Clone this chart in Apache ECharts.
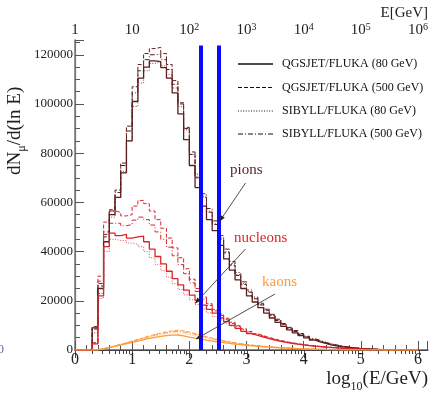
<!DOCTYPE html>
<html><head><meta charset="utf-8">
<script src="https://cdn.jsdelivr.net/npm/echarts@6/dist/echarts.min.js"></script>
<style>html,body{margin:0;padding:0;background:#fff}#c{width:431px;height:394px}</style>
</head><body><div id="c"></div>
<script>
// ---- data ----
const binEdges = [0.0,0.1,0.2,0.3,0.4,0.5,0.6,0.7,0.8,0.9,
  1.0,1.1,1.2,1.3,1.4,1.5,1.6,1.7,1.8,1.9,
  2.0,2.1,2.2,2.3,2.4,2.5,2.6,2.7,2.8,2.9,
  3.0,3.1,3.2,3.3,3.4,3.5,3.6,3.7,3.8,3.9,
  4.0,4.1,4.2,4.3,4.4,4.5,4.6,4.7,4.8,4.9,
  5.0,5.1,5.2,5.3,5.4,5.5,5.6,5.7,5.8,5.9,6.0];

const pionQ80 = [0,0,0,
  9000,25000,44000,55000,62000,72000,85000,101000,110500,115000,
  117500,117200,114800,110500,104500,96000,85500,75000,66000,58500,
  53000,48500,42500,37000,32500,28500,25000,22000,19500,17200,
  15000,13000,11200,9600,8200,7000,5900,4900,4000,3200,
  2600,2000,1600,1250,950,720,540,400,290,210,
  150,110,80,55,35,20,10,0];
const pionQ500 = [0,0,0,
  9500,27000,47000,57000,65000,76000,91000,107000,116000,120500,
  122500,123000,120500,116000,109500,100500,90000,79500,70000,62000,
  56000,51000,45000,39500,34500,30300,26600,23500,20800,18300,
  16000,13900,12000,10300,8800,7500,6300,5300,4300,3500,
  2800,2200,1750,1350,1050,800,600,440,320,230,
  165,120,85,60,40,25,12,0];
const pionS80 = [0,0,0,
  7000,23000,42000,54000,62000,72500,85000,99000,108500,113500,
  116500,117000,115500,112000,106500,99000,89500,79500,70500,62500,
  56500,51500,45500,40000,35000,30700,27000,23800,21000,18500,
  16200,14100,12200,10500,9000,7700,6500,5500,4500,3700,
  3000,2400,1900,1500,1150,880,660,490,360,260,
  190,135,95,65,45,28,14,0];
const pionS500 = [0,0,0,
  8500,26000,46000,56500,64000,75000,89000,104500,113500,118000,
  120000,120200,118000,114000,108000,100000,90500,80500,71500,63500,
  57500,52500,46500,41000,36000,31500,27700,24400,21500,19000,
  16600,14500,12500,10800,9200,7900,6700,5600,4600,3800,
  3050,2450,1950,1520,1180,900,680,500,370,270,
  195,140,100,70,45,28,14,0];

const nucleonQ80 = [0,0,0,
  2500,22000,42000,47500,46500,47000,45500,46000,46300,44000,
  41000,38000,35000,32000,29000,26500,24300,22300,20200,18200,
  16500,15000,13000,11500,10000,8800,7600,6700,5900,5200,
  4600,4000,3500,3100,2700,2350,2050,1800,1550,1350,
  1150,1000,850,720,600,500,410,330,260,200,
  155,120,90,65,45,30,15,0];
const nucleonQ500 = [0,0,0,
  3000,30000,52000,56500,56000,54500,55000,58500,60800,59500,
  56500,53000,49500,45500,41500,37500,33000,28800,25000,21500,
  18800,16500,14600,12900,11300,9900,8600,7500,6600,5800,
  5100,4450,3900,3400,2950,2550,2200,1900,1650,1420,
  1220,1050,900,760,640,530,430,350,275,215,
  165,125,95,70,48,32,16,0];
const nucleonS80 = [0,0,0,
  2500,21000,40000,45000,44500,44500,43500,43000,42000,40000,
  37500,34800,32200,29600,27000,24600,22400,20400,18500,16700,
  15100,13600,12200,10900,9700,8600,7600,6700,5900,5200,
  4550,4000,3500,3050,2650,2300,2000,1750,1500,1300,
  1120,960,820,700,590,490,400,320,255,200,
  150,115,85,62,42,28,14,0];
const nucleonS500 = [0,0,0,
  3000,28000,48000,51500,51500,50500,51000,52800,54000,53000,
  50800,48000,45000,41800,38300,34700,31000,27300,23800,20700,
  18100,15900,14000,12300,10800,9500,8300,7300,6400,5600,
  4900,4300,3750,3300,2850,2480,2150,1870,1620,1400,
  1200,1030,880,745,625,520,425,345,270,210,
  160,122,92,68,46,30,15,0];

const kaonQ80 = [0,0,0,
  100,500,1000,1500,2000,2550,3100,3650,4200,4700,
  5150,5550,5850,6050,6100,5700,5200,4800,4400,4000,
  3650,3300,3000,2700,2400,2150,1900,1700,1500,1320,
  1160,1020,890,770,660,560,470,390,320,260,
  210,170,135,105,80,60,45,32,22,15,
  10,6,4,2,1,0,0,0];
const kaonQ500 = [0,0,0,
  100,550,1100,1700,2300,2950,3600,4300,5000,5700,
  6350,6900,7400,7800,8000,7800,7300,6700,6000,5400,
  4800,4300,3800,3350,2950,2600,2300,2000,1750,1530,
  1330,1150,990,850,720,610,510,420,345,280,
  225,180,142,110,85,64,48,34,24,16,
  11,7,4,2,1,0,0,0];
const kaonS80 = [0,0,0,
  100,500,1050,1600,2150,2750,3350,3950,4550,5150,
  5700,6200,6600,6900,7000,6750,6300,5800,5250,4750,
  4250,3800,3400,3000,2650,2350,2070,1820,1600,1400,
  1220,1060,920,790,675,570,480,400,330,270,
  218,175,138,108,83,62,46,33,23,16,
  10,6,4,2,1,0,0,0];
const kaonS500 = [0,0,0,
  100,520,1080,1650,2250,2850,3500,4150,4800,5450,
  6050,6600,7050,7400,7600,7350,6900,6350,5750,5150,
  4600,4100,3650,3200,2820,2480,2180,1900,1670,1460,
  1270,1100,950,815,695,590,495,410,338,275,
  222,178,140,109,84,63,47,33,23,16,
  10,6,4,2,1,0,0,0];

const modelNames = ['QGSJET/FLUKA (80 GeV)','QGSJET/FLUKA (500 GeV)','SIBYLL/FLUKA (80 GeV)','SIBYLL/FLUKA (500 GeV)'];
const particleNames = ['pions','nucleons','kaons'];
const bottomTicks = [0,1,2,3,4,5,6];
const topDecades = [0,1,2,3,4,5,6];
const topTickLabels = ['{b|1}','{b|10}','{b|10}{s|2}','{b|10}{s|3}','{b|10}{s|4}','{b|10}{s|5}','{b|10}{s|6}'];
const markerLogE = [2.2, 2.52];
const markerTop = 123800;

// ---- styles ----
const SERIF = "'Liberation Serif','DejaVu Serif',serif";
const X_MAX = 6.17, Y_MAX = 126000;
const GRID = {left:75, top:40, width:354, height:310};
const particleColors = ['#5b1d1d', '#d9262b', '#ff9a3c'];
const modelLine = [
  {type:'solid', width:1.3},
  {type:[4,2], width:1},
  {type:[1,1.6], width:1},
  {type:[5,2,1,2], width:1}
];
const seriesTable = [
  [pionQ80, pionQ500, pionS80, pionS500],
  [nucleonQ80, nucleonQ500, nucleonS80, nucleonS500],
  [kaonQ80, kaonQ500, kaonS80, kaonS500]
];

const topMinor = [];
for (let d = 0; d <= 6; d++) for (let k = 2; k <= 9; k++) {
  const v = d + Math.log10(k);
  if (v <= X_MAX) topMinor.push(v);
}

const series = [];
seriesTable.forEach((row, p) => {
  row.forEach((vals, m) => {
    series.push({
      name: particleNames[p] + ' ' + modelNames[m],
      type: 'line', step: 'end', symbol: 'none', animation: false,
      xAxisIndex: 0, yAxisIndex: 0,
      z: 3 + (m === 0 ? 1 : 0),
      data: binEdges.map((x, i) => [x, vals[i]]),
      lineStyle: {color: particleColors[p], type: modelLine[m].type, width: modelLine[m].width,
                  opacity: m === 2 ? 0.8 : 1},
      itemStyle: {color: particleColors[p]}
    });
  });
});
// blue markers
series.push({
  name: 'markers', type: 'line', data: [], symbol: 'none', animation: false, z: 8,
  markLine: {
    symbol: ['none','none'], silent: true, animation: false,
    label: {show: false},
    lineStyle: {color: '#0a0aff', width: 4, type: 'solid'},
    emphasis: {disabled: true},
    data: markerLogE.map(x => [{coord: [x, 0]}, {coord: [x, markerTop]}])
  }
});

function arrow(x1, y1, x2, y2) {
  const a = Math.atan2(y2 - y1, x2 - x1), L = 6, W = 2.3;
  const c = Math.cos(a), s = Math.sin(a);
  return [
    {type: 'line', z: 100, shape: {x1, y1, x2, y2}, style: {stroke: '#222', lineWidth: 0.8}},
    {type: 'polygon', z: 100, shape: {points: [[x2, y2], [x2 - L*c + W*s, y2 - L*s - W*c], [x2 - L*c - W*s, y2 - L*s + W*c]]},
     style: {fill: '#222'}}
  ];
}

// legend (drawn as graphic: black line samples + model names)
const legendRowsY = [64, 87.5, 111, 134];
const legendGraphics = [];
modelNames.forEach((n, m) => {
  const y = legendRowsY[m];
  const dash = modelLine[m].type === 'solid' ? null : modelLine[m].type;
  legendGraphics.push({type: 'line', z: 100, shape: {x1: 238, y1: y, x2: 273, y2: y},
    style: {stroke: '#111', lineWidth: modelLine[m].width, lineDash: dash}});
  legendGraphics.push({type: 'text', z: 100, x: 282, y: y,
    style: {text: n, font: '12px ' + SERIF, fill: '#111', align: 'left', verticalAlign: 'middle'}});
});

const graphics = [
  {type: 'text', z: 100, x: 428, y: 6, style: {text: 'E[GeV]', font: '15px ' + SERIF, fill: '#222', align: 'right', verticalAlign: 'top'}},
  {type: 'text', z: 100, x: 17, y: 175, rotation: Math.PI / 2,
   style: {text: '{b|dN}{s|μ}{b|/d(ln E)}{z|\u200b}', align: 'left', verticalAlign: 'middle', fill: '#222',
     rich: {b: {fontSize: 19, fontFamily: SERIF, lineHeight: 19, verticalAlign: 'top', fill: '#222'},
            s: {fontSize: 12, fontFamily: SERIF, lineHeight: 12, verticalAlign: 'bottom', fill: '#222'},
            z: {fontSize: 1, lineHeight: 22}}}},
  {type: 'text', z: 100, x: 428, y: 370,
   style: {text: '{b|log}{s|10}{b|(E/GeV)}{z|\u200b}', align: 'right', verticalAlign: 'top', fill: '#222',
     rich: {b: {fontSize: 19, fontFamily: SERIF, lineHeight: 19, verticalAlign: 'top', fill: '#222'},
            s: {fontSize: 12, fontFamily: SERIF, lineHeight: 12, verticalAlign: 'bottom', fill: '#222'},
            z: {fontSize: 1, lineHeight: 23}}}},
  {type: 'text', z: 100, x: 4, y: 350, style: {text: '0', font: '13px ' + SERIF, fill: '#5a7090', align: 'right', verticalAlign: 'middle'}},
  {type: 'text', z: 100, x: 230, y: 170, style: {text: 'pions', font: '15px ' + SERIF, fill: particleColors[0], align: 'left', verticalAlign: 'middle'}},
  {type: 'text', z: 100, x: 234, y: 238, style: {text: 'nucleons', font: '15px ' + SERIF, fill: particleColors[1], align: 'left', verticalAlign: 'middle'}},
  {type: 'text', z: 100, x: 262, y: 282, style: {text: 'kaons', font: '15px ' + SERIF, fill: particleColors[2], align: 'left', verticalAlign: 'middle'}},
  ...arrow(245.5, 183, 219.5, 221.5),
  ...arrow(245.5, 249, 195, 303.5),
  ...arrow(275, 294, 196, 339),
  ...legendGraphics
];

const option = {
  backgroundColor: '#fff',
  animation: false,
  grid: [Object.assign({}, GRID), Object.assign({}, GRID)],
  xAxis: [
    {type: 'value', gridIndex: 0, position: 'bottom', min: 0, max: X_MAX, interval: 1,
     axisLine: {lineStyle: {color: '#888', width: 2}},
     axisTick: {inside: true, length: 9, lineStyle: {color: '#555'}},
     minorTick: {show: true, splitNumber: 5, length: 5, lineStyle: {color: '#555'}},
     splitLine: {show: false},
     axisLabel: {fontFamily: SERIF, fontSize: 16, color: '#222', margin: 2,
       formatter: v => bottomTicks.includes(v) ? String(v) : ''}},
    {type: 'value', gridIndex: 0, position: 'top', min: 0, max: X_MAX,
     axisLine: {lineStyle: {color: '#444', width: 1}},
     axisTick: {inside: true, length: 4, customValues: topMinor, lineStyle: {color: '#444'}},
     splitLine: {show: false},
     axisLabel: {customValues: topDecades, margin: 2, color: '#222',
       formatter: v => topTickLabels[Math.round(v)],
       rich: {b: {fontFamily: SERIF, fontSize: 15, lineHeight: 16, verticalAlign: 'bottom', color: '#222'},
              s: {fontFamily: SERIF, fontSize: 10, lineHeight: 10, verticalAlign: 'top', color: '#222'}}}},
    {type: 'value', gridIndex: 1, position: 'top', min: 0, max: X_MAX,
     axisLine: {show: false},
     axisTick: {inside: true, length: 8, customValues: topDecades, lineStyle: {color: '#444'}},
     splitLine: {show: false},
     axisLabel: {show: false}}
  ],
  yAxis: [
    {type: 'value', gridIndex: 0, position: 'left', min: 0, max: Y_MAX, interval: 20000,
     axisLine: {show: true, lineStyle: {color: '#777', width: 1.5}},
     axisTick: {show: true, inside: true, length: 9, lineStyle: {color: '#555'}},
     minorTick: {show: true, splitNumber: 4, length: 5, lineStyle: {color: '#555'}},
     splitLine: {show: false},
     axisLabel: {fontFamily: SERIF, fontSize: 13, color: '#222', margin: 2,
       formatter: v => (v % 20000 === 0) ? String(v) : ''}},
    {type: 'value', gridIndex: 0, position: 'right', min: 0, max: Y_MAX,
     axisLine: {show: true, lineStyle: {color: '#777', width: 1.2}},
     axisTick: {show: false}, axisLabel: {show: false}, splitLine: {show: false}},
    {type: 'value', gridIndex: 1, min: 0, max: Y_MAX, show: false}
  ],
  graphic: graphics,
  series: series
};

const chart = echarts.init(document.getElementById('c'), null, {renderer: 'canvas'});
chart.setOption(option);
</script>
</body></html>
